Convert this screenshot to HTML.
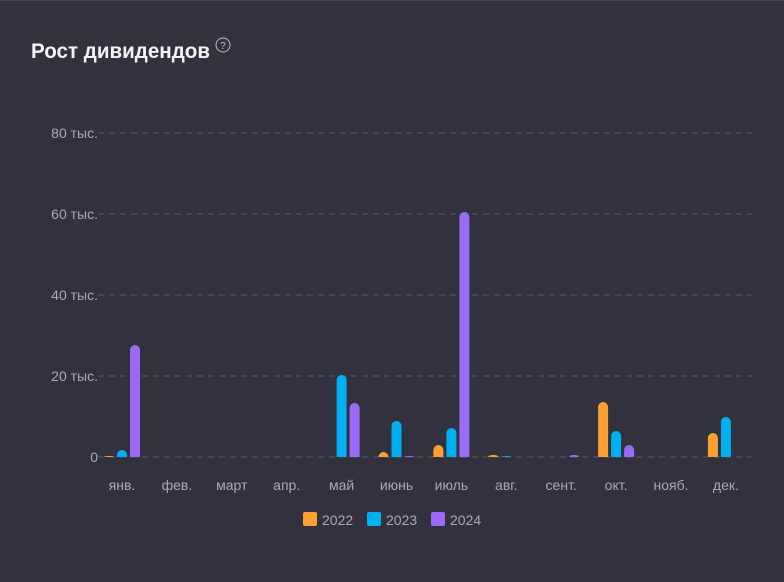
<!DOCTYPE html>
<html><head><meta charset="utf-8"><style>
html,body{margin:0;padding:0;background:#32323e;}
body{width:784px;height:577px;overflow:hidden;}
svg text{font-family:"Liberation Sans",Arial,sans-serif;}
</style></head><body>
<svg id="s" width="784" height="577" xmlns="http://www.w3.org/2000/svg">
<rect x="0" y="0" width="784" height="577" fill="#32323e"/>
<rect x="0" y="0" width="784" height="1" fill="#44444f"/>
<text x="31" y="58" font-size="21" font-weight="bold" fill="#f2f2f5" textLength="179" lengthAdjust="spacingAndGlyphs">Рост дивидендов</text>
<circle cx="223" cy="45" r="7" fill="none" stroke="#bbbbc4" stroke-width="1"/>
<text x="223" y="49" font-size="10" fill="#bbbbc4" text-anchor="middle">?</text>
<g id="g"></g>
</svg>
<script>
var g=document.getElementById('g'),h='';
var ys=[[0,'0'],[20,'20 тыс.'],[40,'40 тыс.'],[60,'60 тыс.'],[80,'80 тыс.']];
ys.forEach(function(v){var y=457-v[0]*4.05;
h+='<line x1="98" x2="752" y1="'+y+'" y2="'+y+'" stroke="#5a5a66" stroke-dasharray="6,5" stroke-width="1"/>';
h+='<text x="98" y="'+(y+5)+'" font-size="14" fill="#a9a9b6" text-anchor="end">'+v[1]+'</text>';});
var m=['янв.','фев.','март','апр.','май','июнь','июль','авг.','сент.','окт.','нояб.','дек.'];
var tops=[[456,450,345],[457,457,457],[457,457,457],[457,457,457],[457,375,403],[452,421,456],[445,428,212],[455,456,457],[457,457,455],[402,431,445],[457,457,457],[433,417,457]];
var c=['#ffa033','#00b0f0','#9b6bf5'];
for(var i=0;i<12;i++){var cx=122+i*54.9;
h+='<text x="'+cx+'" y="490" font-size="14" fill="#a9a9b6" text-anchor="middle">'+m[i]+'</text>';
for(var j=0;j<3;j++){var t=tops[i][j],x=cx+(j-1)*13-5,hh=457-t;
if(hh<=0){continue;}
if(hh>=5){h+='<path d="M'+x+' 457 V'+(t+5)+' A5 5 0 0 1 '+(x+10)+' '+(t+5)+' V457 Z" fill="'+c[j]+'"/>';}
else{h+='<path d="M'+x+' 457 Q'+x+' '+t+' '+(x+5)+' '+t+' Q'+(x+10)+' '+t+' '+(x+10)+' 457 Z" fill="'+c[j]+'"/>';}
}}
var L=[[303,'2022'],[367,'2023'],[431,'2024']];
L.forEach(function(l,k){h+='<rect x="'+l[0]+'" y="512" width="14" height="14" rx="2" fill="'+c[k]+'"/><text x="'+(l[0]+19)+'" y="525" font-size="14" fill="#a9a9b6">'+l[1]+'</text>';});
g.innerHTML=h;
</script>
</body></html>
